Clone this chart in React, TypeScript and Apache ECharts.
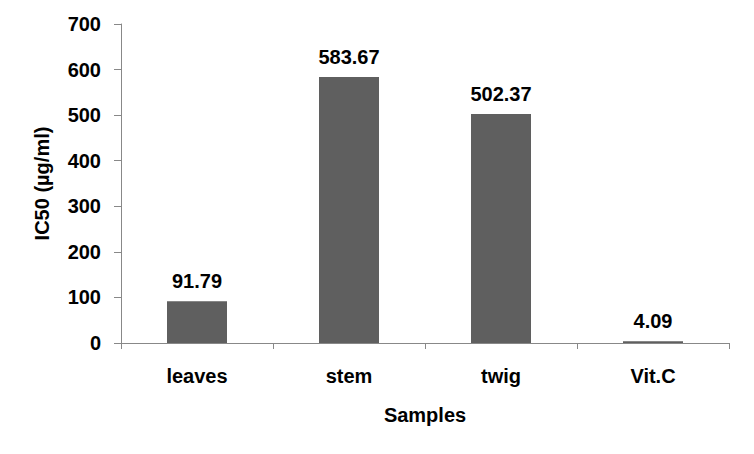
import React, { useEffect, useRef } from "react";
import * as echarts from "echarts";

const categories = ["leaves", "stem", "twig", "Vit.C"];
const values = [91.79, 583.67, 502.37, 4.09];
const yTicks = { min: 0, max: 700, interval: 100 };

export default function App() {
  const ref = useRef<HTMLDivElement>(null);
  useEffect(() => {
    const chart = echarts.init(ref.current!, null, { renderer: "svg" });
    const font = "Arial, 'Liberation Sans', sans-serif";
    const txt = { fontFamily: font, fontWeight: "bold", fontSize: 20, color: "#000" };
    chart.setOption({
      animation: false,
      backgroundColor: "#ffffff",
      grid: { left: 121, right: 25, top: 24, bottom: 111, containLabel: false },
      xAxis: {
        type: "category",
        data: categories,
        name: "Samples",
        nameLocation: "middle",
        nameGap: 62,
        nameTextStyle: txt,
        axisLine: { lineStyle: { color: "#888888", width: 1 } },
        axisTick: { show: true, length: 6, lineStyle: { color: "#888888" } },
        axisLabel: { ...txt, margin: 23 },
      },
      yAxis: {
        type: "value",
        min: yTicks.min,
        max: yTicks.max,
        interval: yTicks.interval,
        name: "IC50 (µg/ml)",
        nameLocation: "middle",
        nameGap: 69,
        nameRotate: 90,
        nameTextStyle: txt,
        axisLine: { show: true, lineStyle: { color: "#888888", width: 1 } },
        axisTick: { show: true, length: 7, lineStyle: { color: "#888888" } },
        splitLine: { show: false },
        axisLabel: { ...txt, margin: 20 },
      },
      series: [
        {
          type: "bar",
          data: values,
          barWidth: 60,
          itemStyle: { color: "#5f5f5f" },
          label: {
            show: true,
            position: "top",
            distance: 10,
            ...txt,
            formatter: (p: any) => p.value.toFixed(2),
          },
        },
      ],
    });
    return () => chart.dispose();
  }, []);
  return (
    <div
      ref={ref}
      style={{ position: "absolute", left: 0, top: 0, width: 754, height: 454 }}
    />
  );
}
